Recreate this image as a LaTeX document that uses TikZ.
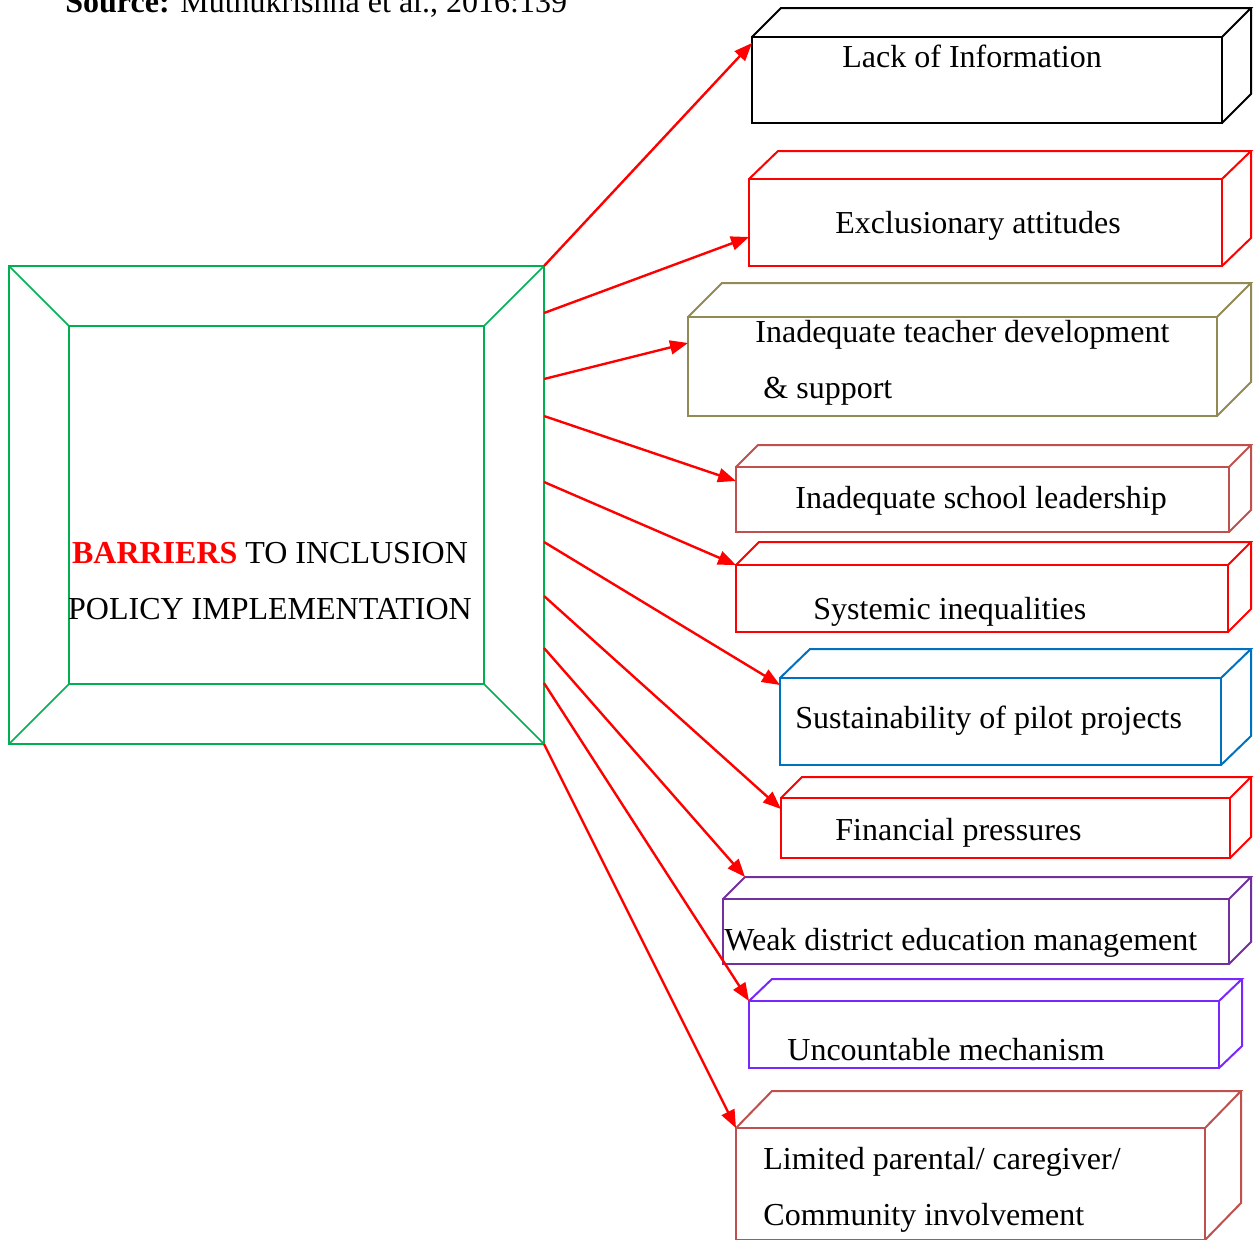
\documentclass[tikz,border=0pt]{standalone}
\usepackage{fontspec}
\setmainfont{Liberation Serif}
\usetikzlibrary{arrows.meta,calc}

\definecolor{boxgreen}{RGB}{0,176,80}
\definecolor{boxred}{RGB}{255,0,0}
\definecolor{boxolive}{RGB}{147,137,83}
\definecolor{boxbrick}{RGB}{192,80,77}
\definecolor{boxblue}{RGB}{0,112,192}
\definecolor{boxpurple}{RGB}{112,48,160}
\definecolor{boxviolet}{RGB}{120,40,255}

\tikzset{
  facebox/.style={draw, rectangle, inner sep=0pt, outer sep=0pt, line width=1pt},
  cubeline/.style={line width=1pt, line join=miter},
  label/.style={inner sep=0pt, anchor=base west, font=\fontsize{16}{28}\selectfont, align=left},
  barrow/.style={draw=boxred, line width=1.2pt, -{Triangle[length=9pt,width=7pt]}},
}

% front face (name, colour, x1, y1, x2, y2) plus top and side faces of depth (dx, dy)
\newcommand\cuboid[8]{%
  \pgfmathsetmacro\cubew{(#5-#3)/2}%
  \pgfmathsetmacro\cubeh{(#6-#4)/2}%
  \node[facebox, draw=#2, minimum width=\cubew pt, minimum height=\cubeh pt, anchor=north west] (#1) at (#3,#4) {};
  \coordinate (#1-back) at ($(#1.north west)+(#7,-#8)$);
  \draw[cubeline, draw=#2] (#1.north west) -- (#1-back) -- ++(#5-#3,0) -- (#1.north east)
    (#1.north east) ++(#7,-#8) -- ++(0,#6-#4) -- (#1.south east);
}

\begin{document}
\begin{tikzpicture}[x=0.5pt, y=-0.5pt]
\useasboundingbox (0,0) rectangle (1254,1239);
\clip (0,0) rectangle (1254,1239);

% source line
\node[label] (source) at (65,12) {\textbf{Source:} Muthukrishna et al., 2016:139};

% central framed box
\node[facebox, draw=boxgreen, line width=0.85pt, minimum width=267.5pt, minimum height=239pt, anchor=north west] (outer) at (9,266) {};
\node[facebox, draw=boxgreen, line width=0.85pt, minimum width=207.5pt, minimum height=179pt, anchor=north west] (inner) at (69,326) {};
\draw[boxgreen, line width=0.85pt]
  (outer.north west) -- (inner.north west)
  (outer.north east) -- (inner.north east)
  (outer.south west) -- (inner.south west)
  (outer.south east) -- (inner.south east);
% multi-line labels are placed by the baseline of their last line
\node[label, anchor=base, align=center] (title) at (270,619)
  {\textcolor{boxred}{\textbf{BARRIERS}} TO INCLUSION\\POLICY IMPLEMENTATION};

% barrier boxes
\cuboid{b1}{black}{752}{37}{1222}{123}{29}{29}
\cuboid{b2}{boxred}{749}{179}{1222}{266}{29}{28}
\cuboid{b3}{boxolive}{688}{317}{1217}{416}{34}{34}
\cuboid{b4}{boxbrick}{736}{467}{1229}{532}{22}{22}
\cuboid{b5}{boxred}{736}{565}{1228}{632}{23}{23}
\cuboid{b6}{boxblue}{780}{678}{1221}{765}{30}{29}
\cuboid{b7}{boxred}{781}{798}{1230}{858}{21}{21}
\cuboid{b8}{boxpurple}{723}{899}{1229}{964}{22}{22}
\cuboid{b9}{boxviolet}{749}{1001}{1219}{1068}{23}{22}
\cuboid{b10}{boxbrick}{736}{1128}{1205}{1240}{36}{37}

% box texts
\node[label] (t1) at (842,67) {Lack of Information};
\node[label] (t2) at (835,233) {Exclusionary attitudes};
\node[label] (t3) at (755,398) {Inadequate teacher development\\\hspace*{4pt}\& support};
\node[label] (t4) at (795,508) {Inadequate school leadership};
\node[label] (t5) at (813,619) {Systemic inequalities};
\node[label] (t6) at (795,728) {Sustainability of pilot projects};
\node[label] (t7) at (835,840) {Financial pressures};
\node[label] (t8) at (724,950) {Weak district education management};
\node[label] (t9) at (787,1060) {Uncountable mechanism};
\node[label] (t10) at (763,1225) {Limited parental/ caregiver/\\Community involvement};

% connectors
\draw[barrow] (outer.north east) -- (b1.west |- 0,43);
\draw[barrow] (outer.east |- 0,313) -- (b2.west |- 0,237);
\draw[barrow] (outer.east |- 0,379) -- (b3.west |- 0,343);
\draw[barrow] (outer.east |- 0,416) -- (b4.west |- 0,481);
\draw[barrow] (outer.east |- 0,482) -- (b5.north west);
\draw[barrow] (outer.east |- 0,542) -- (b6.west |- 0,685);
\draw[barrow] (outer.east |- 0,596) -- (b7.west |- 0,809);
\draw[barrow] (outer.east |- 0,648) -- (b8-back);
\draw[barrow] (outer.east |- 0,683) -- (b9.north west);
\draw[barrow] (outer.south east) -- (b10.north west);
\end{tikzpicture}
\end{document}
